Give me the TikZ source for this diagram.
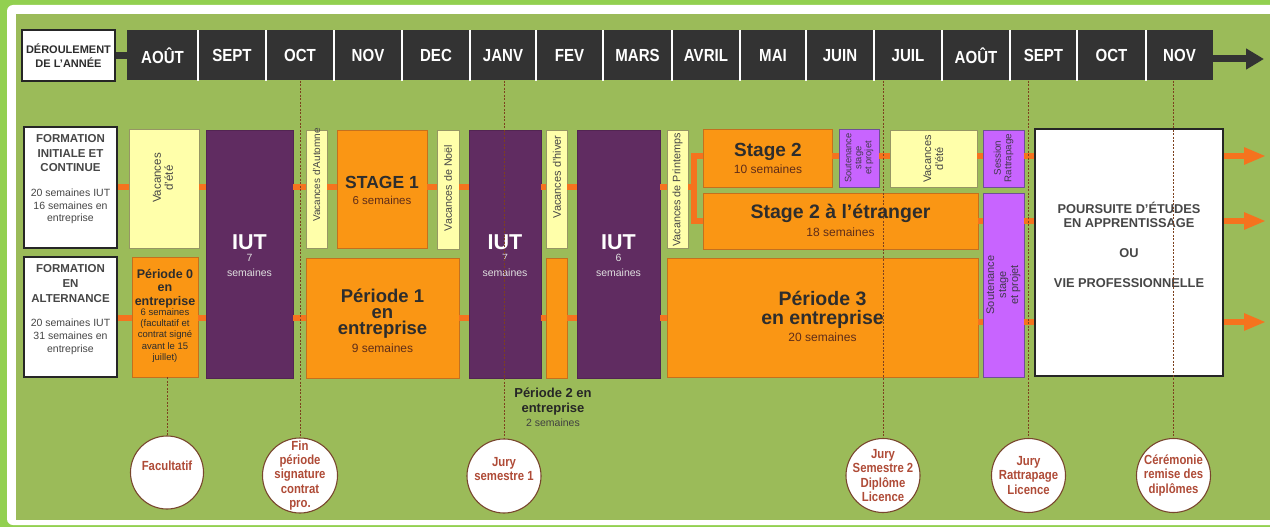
\documentclass[tikz,border=0pt]{standalone}
\usepackage{fontspec}
\setmainfont{Liberation Sans}
\newfontfamily\narrowfont[FakeStretch=0.86]{Liberation Sans}
\usetikzlibrary{arrows.meta,calc}

\definecolor{outergreen}{RGB}{146,208,80}
\definecolor{fieldgreen}{RGB}{155,187,89}
\definecolor{hdr}{RGB}{51,51,51}
\definecolor{iutpurple}{RGB}{96,44,97}
\definecolor{orangebox}{RGB}{250,150,20}
\definecolor{orangeedge}{RGB}{196,112,30}
\definecolor{yellowbox}{RGB}{255,255,170}
\definecolor{yellowedge}{RGB}{150,150,100}
\definecolor{violetbox}{RGB}{200,100,255}
\definecolor{violetedge}{RGB}{110,80,150}
\definecolor{connorange}{RGB}{245,115,30}
\definecolor{darktext}{RGB}{45,45,45}
\definecolor{graytext}{RGB}{70,70,70}
\definecolor{semtext}{RGB}{95,45,25}
\definecolor{dotbrown}{RGB}{125,65,30}
\definecolor{circletext}{RGB}{175,75,55}
\definecolor{circleedge}{RGB}{120,70,45}

\begin{document}
\begin{tikzpicture}[x=1pt,y=-1pt,
  monthbox/.style={fill=hdr, text=white, inner sep=0, minimum height=50,
    font=\narrowfont\bfseries\fontsize{17.5}{17.5}\selectfont},
  sepline/.style={white, line width=1.5pt},
  labbox/.style={draw=black!85, line width=1.6pt, fill=white, inner sep=0},
  yel/.style={draw=yellowedge, line width=0.8pt, fill=yellowbox, inner sep=0},
  org/.style={draw=orangeedge, line width=0.8pt, fill=orangebox, inner sep=0},
  iutbox/.style={fill=iutpurple, draw=iutpurple!85!black, line width=0.6pt, inner sep=0},
  vio/.style={fill=violetbox, draw=violetedge, line width=0.8pt, inner sep=0},
  conn/.style={connorange, line width=6pt},
  hdrconn/.style={hdr, line width=7pt},
  hdrarrow/.style={hdr, line width=7pt, -{Triangle[length=18pt,width=20pt]}},
  outarrow/.style={connorange, line width=6.5pt, -{Triangle[length=22pt,width=16pt]}},
  dotline/.style={dotbrown, line width=0.8pt, dash pattern=on 2pt off 1.5pt},
  circ/.style={circle, draw=circleedge, line width=1.1pt, fill=white, inner sep=0, minimum size=74},
  ctext/.style={text=circletext, align=center, inner sep=0, font=\narrowfont\bfseries\fontsize{13.2}{14.2}\selectfont},
  rot/.style={rotate=90, align=center, inner sep=0, text=graytext},
  tt/.style={align=center, inner sep=0, text=darktext},
  iuttitle/.style={text=white, inner sep=0, font=\bfseries\fontsize{21.5}{21.5}\selectfont},
  iutsub/.style={text=white!88!black, align=center, inner sep=0, font=\fontsize{10.5}{15}\selectfont}
]
\useasboundingbox (0,0) rectangle (1270,527);
% frame
\fill[outergreen] (0,0) rectangle (1270,527);
\fill[white, rounded corners=6pt] (7,5) rectangle (1290,525);
\fill[fieldgreen] (16,14) rectangle (1270,520);

% header
\node[labbox, minimum width=93, minimum height=51, align=center, text=darktext,
  font=\bfseries\fontsize{11}{14.5}\selectfont] (der) at (68.5,55.5) {DÉROULEMENT\\DE L'ANNÉE};
\foreach \n/\c/\w/\t in {m1/162.5/71/AOÛT, m2/232/68/SEPT, m3/300/68/OCT, m4/368/68/NOV,
  m5/436/68/DEC, m6/503/66/JANV, m7/569.5/67/FEV, m8/637.5/69/MARS, m9/706/68/AVRIL,
  m10/773/66/MAI, m11/840/68/JUIN, m12/908/68/JUIL, m13/976/68/AOÛT, m14/1043.5/67/SEPT,
  m15/1111.5/69/OCT, m16/1179.5/67/NOV}
  \node[monthbox, minimum width=\w] (\n) at (\c,55.5) {\t};
\foreach \n in {m1,m2,m3,m4,m5,m6,m7,m8,m9,m10,m11,m12,m13,m14,m15}
  \draw[sepline] (\n.north east) -- (\n.south east);
\draw[hdrconn] (der.east) -- (der.east -| m1.west);
\coordinate (hend) at (1264,59);
\draw[hdrarrow] (m16.east |- hend) -- (hend);

% row labels
\node[labbox, minimum width=93, minimum height=121] (lab1) at (70.5,187.5) {};
\node[tt, text=graytext, font=\bfseries\fontsize{11.5}{14.5}\selectfont] at (70.5,153.5) {FORMATION\\INITIALE ET\\CONTINUE};
\node[tt, text=graytext, font=\fontsize{10.5}{12.5}\selectfont] at (70.5,206.5) {20 semaines IUT\\16 semaines en\\entreprise};
\node[labbox, minimum width=93, minimum height=120] (lab2) at (70.5,317) {};
\node[tt, text=graytext, font=\bfseries\fontsize{11.5}{15}\selectfont] at (70.5,284) {FORMATION\\EN\\ALTERNANCE};
\node[tt, text=graytext, font=\fontsize{10.5}{13}\selectfont] at (70.5,337) {20 semaines IUT\\31 semaines en\\entreprise};

% boxes
\node[yel, minimum width=70, minimum height=119] (vac1) at (164,188.5) {};
\node[rot, font=\fontsize{11.5}{12}\selectfont] at (163,178) {Vacances\\d'été};
\node[org, minimum width=66, minimum height=120] (per0) at (165,317) {};
\node[tt, font=\bfseries\fontsize{12.5}{13.5}\selectfont] at (165,288.5) {Période 0\\en\\entreprise};
\node[tt, font=\fontsize{9.5}{11.2}\selectfont] at (165,335.5) {6 semaines\\(facultatif et\\contrat signé\\avant le 15\\juillet)};

\node[iutbox, minimum width=87, minimum height=248] (iut1) at (249.5,254) {};
\node[iuttitle] at (249.5,242) {IUT};
\node[iutsub] at (249.5,265.5) {7\\semaines};

\node[yel, minimum width=21, minimum height=118] (aut) at (316.5,189) {};
\node[rot, font=\fontsize{10}{11}\selectfont] at (316.5,175) {Vacances d'Automne};
\node[org, minimum width=90, minimum height=118] (stage1) at (382,189) {};
\node[tt, font=\bfseries\fontsize{17.5}{17.5}\selectfont] at (382,182) {STAGE 1};
\node[tt, text=semtext, font=\fontsize{11.5}{11.5}\selectfont] at (382,200) {6 semaines};
\node[yel, minimum width=22, minimum height=119] (noel) at (448,189.5) {};
\node[rot, font=\fontsize{10.7}{11}\selectfont] at (448,188) {Vacances de Noël};
\node[org, minimum width=153, minimum height=120] (per1) at (382.5,318) {};
\node[tt, font=\bfseries\fontsize{18.5}{16}\selectfont] at (382.5,314) {Période 1\\en\\entreprise};
\node[tt, text=semtext, font=\fontsize{12}{12}\selectfont] at (382.5,348) {9 semaines};

\node[iutbox, minimum width=72, minimum height=248] (iut2) at (505,254) {};
\node[iuttitle] at (505,242) {IUT};
\node[iutsub] at (505,265.5) {7\\semaines};
\node[yel, minimum width=21, minimum height=118] (hiver) at (556.5,189) {};
\node[rot, font=\fontsize{11}{11}\selectfont] at (557,177) {Vacances d'hiver};
\node[org, minimum width=21, minimum height=120] (small2) at (556.5,318) {};
\node[iutbox, minimum width=83, minimum height=248] (iut3) at (618.5,254) {};
\node[iuttitle] at (618.5,242) {IUT};
\node[iutsub] at (618.5,265.5) {6\\semaines};
\node[yel, minimum width=21, minimum height=118] (print) at (677.5,189) {};
\node[rot, font=\fontsize{10.8}{11}\selectfont] at (677.5,190) {Vacances de Printemps};

\node[org, minimum width=129, minimum height=58] (stage2) at (767.5,158) {};
\node[tt, font=\bfseries\fontsize{19}{19}\selectfont] at (768,152) {Stage 2};
\node[tt, text=semtext, font=\fontsize{12}{12}\selectfont] at (768,169) {10 semaines};
\node[vio, minimum width=40, minimum height=58] (sout1) at (859,158) {};
\node[rot, text=darktext!70!violetedge, font=\fontsize{9.3}{10}\selectfont] at (859,158) {Soutenance\\stage\\et projet};
\node[yel, minimum width=87, minimum height=57] (vac2) at (933.5,158.5) {};
\node[rot, font=\fontsize{11}{12}\selectfont] at (933.5,159) {Vacances\\d'été};
\node[vio, minimum width=41, minimum height=57] (sess) at (1003.5,158.5) {};
\node[rot, text=darktext!70!violetedge, font=\fontsize{9.8}{10.5}\selectfont] at (1003.5,158) {Session\\Rattrapage};

\node[org, minimum width=275, minimum height=56] (etr) at (840.5,221) {};
\node[tt, font=\bfseries\fontsize{19.5}{19.5}\selectfont] at (840.5,213) {Stage 2 à l’étranger};
\node[tt, text=semtext, font=\fontsize{12}{12}\selectfont] at (840.5,232) {18 semaines};
\node[org, minimum width=311, minimum height=119] (per3) at (822.5,317.5) {};
\node[tt, font=\bfseries\fontsize{19.5}{19}\selectfont] at (822.5,309.5) {Période 3\\en entreprise};
\node[tt, text=semtext, font=\fontsize{12}{12}\selectfont] at (822.5,337) {20 semaines};
\node[vio, minimum width=41, minimum height=184] (sout2) at (1003.5,285) {};
\node[rot, text=darktext!70!violetedge, font=\fontsize{11}{12}\selectfont] at (1003.5,285) {Soutenance\\stage\\et projet};

\node[labbox, line width=2pt, minimum width=188, minimum height=247] (pours) at (1129,252.5) {};
\node[tt, text=graytext, font=\bfseries\fontsize{12.8}{14}\selectfont] at (1129,215) {POURSUITE D’ÉTUDES\\EN APPRENTISSAGE};
\node[tt, text=graytext, font=\bfseries\fontsize{12.8}{14}\selectfont] at (1129,253) {OU};
\node[tt, text=graytext, font=\bfseries\fontsize{12.8}{14}\selectfont] at (1129,283) {VIE PROFESSIONNELLE};

% Periode 2 label
\node[tt, text=black!85, font=\bfseries\fontsize{13}{15}\selectfont] at (553,402) {Période 2 en\\entreprise};
\node[tt, text=black!75, font=\fontsize{10.5}{10.5}\selectfont] at (553,423) {2 semaines};

% connectors
\coordinate (r1) at (0,187);
\coordinate (r2) at (0,318);
\coordinate (rs) at (0,156);
\coordinate (re) at (0,221);
\coordinate (r3) at (0,322);
\foreach \a/\b in {lab1/vac1, vac1/iut1, iut1/aut, aut/stage1, stage1/noel, noel/iut2, iut2/hiver, hiver/iut3, iut3/print}
  \draw[conn] (\a.east |- r1) -- (\b.west |- r1);
\foreach \a/\b in {lab2/per0, per0/iut1, iut1/per1, per1/iut2, iut2/small2, small2/iut3, iut3/per3}
  \draw[conn] (\a.east |- r2) -- (\b.west |- r2);
\foreach \a/\b in {stage2/sout1, sout1/vac2, vac2/sess, sess/pours}
  \draw[conn] (\a.east |- rs) -- (\b.west |- rs);
\foreach \a/\b in {etr/sout2, sout2/pours}
  \draw[conn] (\a.east |- re) -- (\b.west |- re);
\foreach \a/\b in {per3/sout2, sout2/pours}
  \draw[conn] (\a.east |- r3) -- (\b.west |- r3);
\coordinate (br) at (694,187);
\draw[conn] (print.east |- r1) -- (br);
\draw[conn] (stage2.west |- rs) -| (br) |- (etr.west |- re);
\coordinate (oa1) at (1266,156);
\coordinate (oa2) at (1266,221);
\coordinate (oa3) at (1266,322);
\foreach \c in {oa1,oa2,oa3}
  \draw[outarrow] (pours.east |- \c) -- (\c);

% milestone circles
\node[circ, minimum size=73] (c1) at (167,472.5) {};
\node[ctext] at (c1) {Facultatif\\~};
\node[circ, minimum size=75] (c2) at (300,475.5) {};
\node[ctext] at (c2) {Fin\\période\\signature\\contrat\\pro.};
\node[circ] (c3) at (504,476) {};
\node[ctext] at (c3) {Jury\\semestre 1\\~};
\node[circ] (c4) at (883,475.5) {};
\node[ctext] at (c4) {Jury\\Semestre 2\\Diplôme\\Licence};
\node[circ] (c5) at (1028.5,475.5) {};
\node[ctext] at (c5) {Jury\\Rattrapage\\Licence};
\node[circ] (c6) at (1173.5,475.5) {};
\node[ctext] at (c6) {Cérémonie\\remise des\\diplômes};

% dotted guide lines
\draw[dotline] (c1.north |- per0.south) -- (c1.north);
\draw[dotline] (c2.north |- m3.south) -- (c2.north);
\draw[dotline] (c3.north |- m6.south) -- (c3.north);
\draw[dotline] (c4.north |- m12.south) -- (c4.north);
\draw[dotline] (c5.north |- m14.south) -- (c5.north);
\draw[dotline] (c6.north |- m16.south) -- (c6.north);
\end{tikzpicture}
\end{document}
